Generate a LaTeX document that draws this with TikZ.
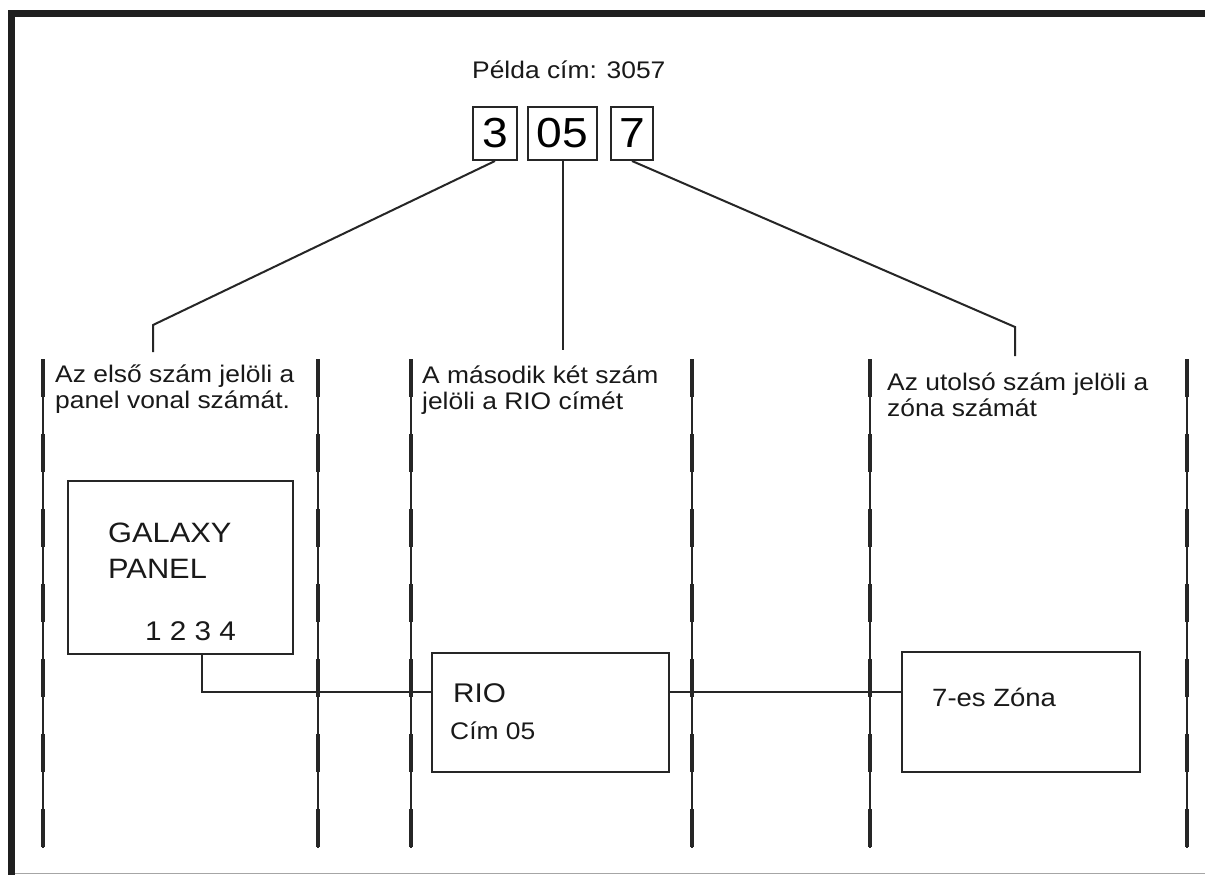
\documentclass[tikz,border=0pt]{standalone}
\usepackage{fontspec}
\setmainfont{Liberation Sans}[FakeStretch=1.1]
\begin{document}
\begin{tikzpicture}[x=1pt,y=-1pt,
  frame/.style={line width=7pt, color=black!88},
  link/.style={line width=2pt, color=black!85},
  boxs/.style={draw=black!85, line width=2pt, inner sep=0pt},
  digit/.style={boxs, minimum height=53pt, font=\fontsize{42}{44}\selectfont},
  txt/.style={anchor=base west, inner sep=0pt, text=black!90},
  colthin/.style={line width=1.4pt, color=black!85},
  colthick/.style={line width=4pt, color=black!85, dash pattern=on 38pt off 37pt},
]
\useasboundingbox (0,0) rectangle (1205,875);
\fill[white] (0,0) rectangle (1205,875);
% frame
\draw[frame] (11.5,875) -- (11.5,13.5) -- (1205,13.5);
\draw[gray!70, line width=1pt] (15,873.5) -- (1205,873.5);
% column separators
\foreach \x in {43,318,411,692,870,1187} {
  \draw[colthin] (\x,359) -- (\x,848);
  \draw[colthick] (\x,359) -- (\x,848);
}
% title and digit boxes
\node[txt, font=\fontsize{24}{26}\selectfont] (title) at (472,78) {Példa cím: 3057};
\node[digit, minimum width=44pt] (b3) at (495,133.5) {3};
\node[digit, minimum width=69pt] (b05) at (562.5,133.5) {05};
\node[digit, minimum width=42pt] (b7) at (632,133.5) {7};
% leader lines
\coordinate (k1) at (153,325); \coordinate (e1) at (153,352);
\draw[link] (b3.south) -- (k1) -- (e1);
\coordinate (e2) at (562.5,350);
\draw[link] (b05.south) -- (e2);
\coordinate (k3) at (1015,327); \coordinate (e3) at (1015,356);
\draw[link] (b7.south) -- (k3) -- (e3);
% column texts
\node[txt] (t1) at (55,382) {\parbox[t]{260pt}{\fontsize{24}{26}\selectfont Az első szám jelöli a\\panel vonal számát.}};
\node[txt] (t2) at (422,383) {\parbox[t]{260pt}{\fontsize{24}{26}\selectfont A második két szám\\jelöli a RIO címét}};
\node[txt] (t3) at (887,390) {\parbox[t]{290pt}{\fontsize{24}{26}\selectfont Az utolsó szám jelöli a\\zóna számát}};
% boxes
\node[boxs, minimum width=225pt, minimum height=173pt] (panel) at (180.5,567.5) {};
\node[txt, font=\fontsize{28}{30}\selectfont] (gal) at (108,542) {GALAXY};
\node[txt, font=\fontsize{28}{30}\selectfont] (pan) at (108,578) {PANEL};
\node[txt, font=\fontsize{27}{29}\selectfont] (nums) at (145,640) {1 2 3 4};
\node[boxs, minimum width=237pt, minimum height=119pt] (rio) at (550.5,712.5) {};
\node[txt, font=\fontsize{27}{29}\selectfont] (riot) at (453,702) {RIO};
\node[txt, font=\fontsize{24}{26}\selectfont] (cim) at (450,739) {Cím 05};
\node[boxs, minimum width=238pt, minimum height=120pt] (zone) at (1021,712) {};
\node[txt, font=\fontsize{25}{27}\selectfont] (zt) at (932,706) {7-es Zóna};
% wiring
\coordinate (bus) at (202,692);
\draw[link] (panel.south -| bus) |- (rio.west |- bus);
\draw[link] (rio.east |- bus) -- (zone.west |- bus);
\end{tikzpicture}
\end{document}
